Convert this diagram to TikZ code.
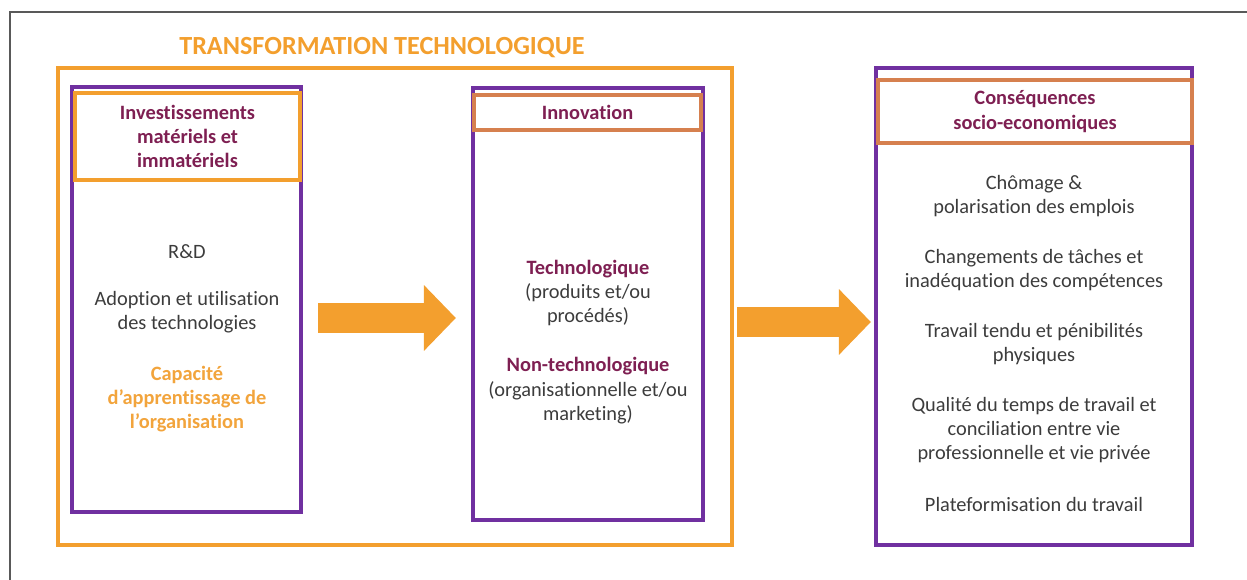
\documentclass[tikz,border=0pt]{standalone}
\usepackage{fontspec}
\setmainfont{Carlito}[Ligatures=NoCommon]
\usetikzlibrary{fit,arrows.meta}
\definecolor{orangeT}{HTML}{F39F2E}
\definecolor{violetB}{HTML}{7030A0}
\definecolor{brique}{HTML}{D6804F}
\definecolor{prune}{HTML}{7E1F52}
\definecolor{grisT}{HTML}{3C3C3C}
\definecolor{orangeC}{HTML}{F2A43C}
\begin{document}
\begin{tikzpicture}[x=0.02cm,y=-0.02cm]
    \tikzset{cadre/.style={draw=violetB, line width=2.4pt, inner sep=0pt}}
    \tikzset{entete/.style={draw=brique, line width=2pt, inner sep=0pt}}
    \tikzset{texte/.style={text=grisT, align=center, font=\fontsize{11.6}{13.9}\selectfont}}
    \tikzset{titre/.style={texte, text=prune, font=\fontsize{11.6}{13.9}\selectfont\bfseries}}
    \tikzset{fleche/.style={orangeT, line width=0.6cm, -{Triangle[length=0.64cm,width=1.28cm]}}}
    \useasboundingbox (0,0) rectangle (1247,580);
    \draw[gray!70!black, line width=0.8pt] (10,580) -- (10,12) -- (1247,12);
    % transformation technologique
    \node[text=orangeT, font=\fontsize{14.9}{17}\selectfont\bfseries] (nom) at (382,48) {TRANSFORMATION TECHNOLOGIQUE};
    \node[draw=orangeT, line width=2.8pt, inner sep=0pt, fit={(58,68) (732,545)}] (transfo) {};
    \node[cadre, fit={(72,87) (301,512)}] (invest) {};
    \node[entete, draw=orangeT, fit={(75,93) (300,180)}] (investT) {};
    \node[cadre, fit={(473,88) (703,520)}] (innov) {};
    \node[entete, fit={(474,95) (701,130)}] (innovT) {};
    \node[cadre, fit={(876,68) (1192,545)}] (consq) {};
    \node[entete, fit={(878,80) (1192,143)}] (consqT) {};
    % titres
    \node[titre] at (investT) {Investissements\\matériels et\\immatériels};
    \node[titre] at (innovT) {Innovation};
    \node[titre] at (consqT) {Conséquences\\socio-economiques};
    % contenu
    \node[texte] (rd) at (187,252) {R\&D};
    \node[texte] (adop) at (187,312) {Adoption et utilisation\\des technologies};
    \node[texte, text=orangeC, font=\fontsize{11.6}{13.9}\selectfont\bfseries] (capa) at (187,399) {Capacité\\d’apprentissage de\\l’organisation};
    \node[texte] (techno) at (588,293) {\textcolor{prune}{\bfseries Technologique}\\(produits et/ou\\procédés)};
    \node[texte] (nontechno) at (588,391) {\textcolor{prune}{\bfseries Non-technologique}\\(organisationnelle et/ou\\marketing)};
    \node[texte] (chom) at (1034,196) {Chômage \&\\polarisation des emplois};
    \node[texte] (chgt) at (1034,270) {Changements de tâches et\\inadéquation des compétences};
    \node[texte] (trav) at (1034,344) {Travail tendu et pénibilités\\physiques};
    \node[texte] (qual) at (1034,430) {Qualité du temps de travail et\\conciliation entre vie\\professionnelle et vie privée};
    \node[texte] (plat) at (1034,504) {Plateformisation du travail};
    % fleches
    \coordinate (f1) at (0,318);
    \coordinate (f2) at (0,322);
    \draw[fleche, shorten <=0.3cm, shorten >=0.3cm] (invest.east |- f1) -- (innov.west |- f1);
    \draw[fleche, shorten <=0.06cm, shorten >=0.06cm] (transfo.east |- f2) -- (consq.west |- f2);
\end{tikzpicture}
\end{document}
